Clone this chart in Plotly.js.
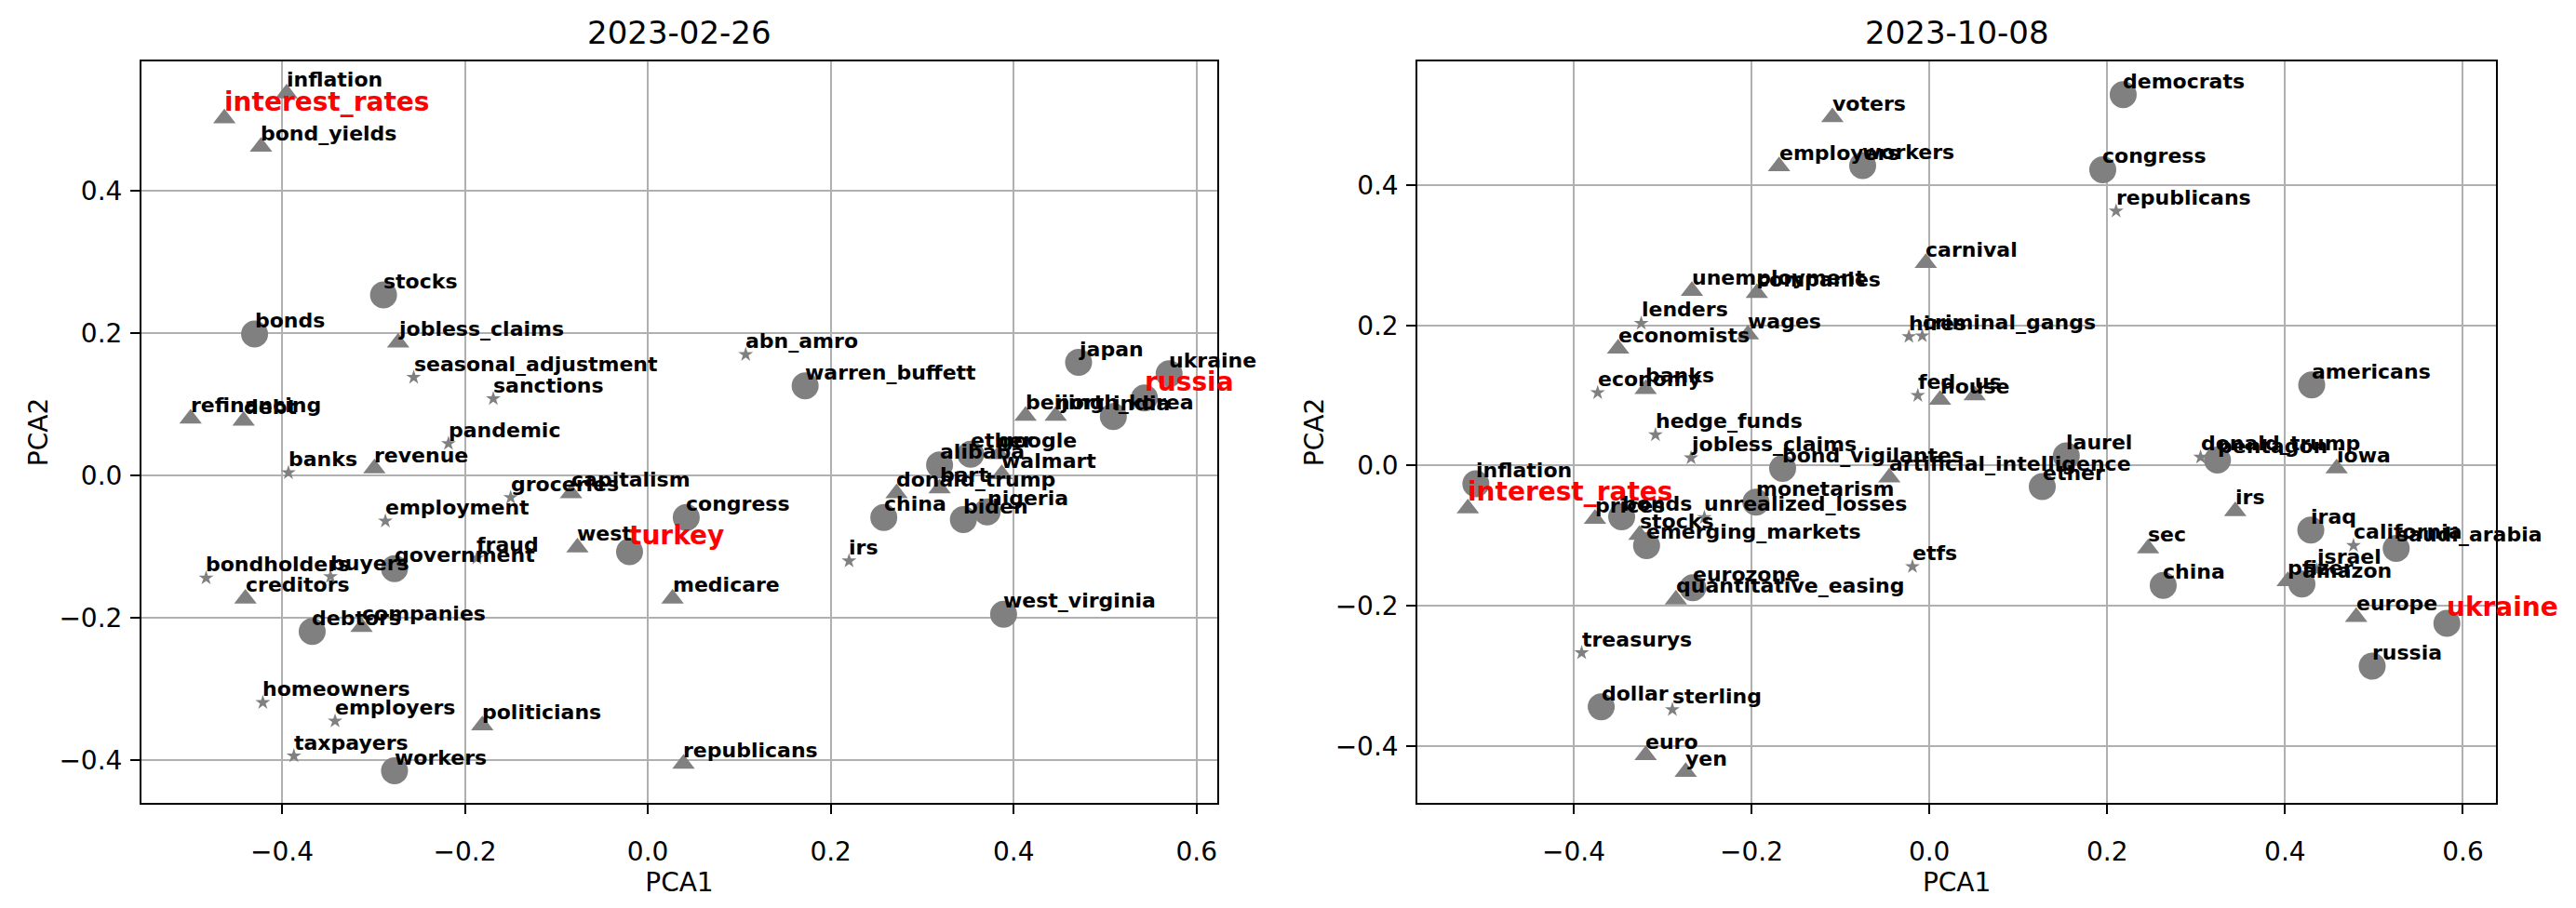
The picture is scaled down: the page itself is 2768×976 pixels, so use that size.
<!DOCTYPE html>
<html><head><meta charset="utf-8">
<script src="https://cdn.plot.ly/plotly-3.0.1.min.js"></script>
<style>body{margin:0;background:#fff}</style>
</head><body><div id="chart" style="width:2768px;height:976px"></div>
<script>
// ---------- Panel 1: 2023-02-26 ----------
const leftTitle = '2023-02-26';
const leftWords = ['inflation','interest_rates','bond_yields','stocks','bonds','jobless_claims','seasonal_adjustment','sanctions','refinancing','debt','pandemic','banks','revenue','employment','groceries','capitalism','congress','fraud','government','bondholders','buyers','creditors','west','turkey','medicare','irs','debtors','companies','homeowners','employers','politicians','taxpayers','workers','republicans','abn_amro','warren_buffett','japan','ukraine','russia','beijing','north_korea','india','ether','google','alibaba','walmart','bart','donald_trump','china','nigeria','biden','west_virginia'];
const leftX = [-0.395,-0.463,-0.423,-0.289,-0.430,-0.273,-0.256,-0.169,-0.500,-0.442,-0.218,-0.393,-0.299,-0.287,-0.150,-0.084,0.042,-0.187,-0.277,-0.483,-0.347,-0.440,-0.077,-0.020,0.027,0.220,-0.367,-0.313,-0.421,-0.342,-0.181,-0.387,-0.277,0.039,0.107,0.172,0.471,0.570,0.543,0.413,0.446,0.509,0.353,0.384,0.319,0.387,0.319,0.272,0.258,0.371,0.345,0.389];
const leftY = [0.537,0.502,0.462,0.254,0.199,0.187,0.138,0.108,0.080,0.077,0.045,0.004,0.010,-0.064,-0.031,-0.025,-0.059,-0.116,-0.131,-0.144,-0.142,-0.173,-0.101,-0.107,-0.173,-0.120,-0.219,-0.213,-0.319,-0.345,-0.351,-0.394,-0.415,-0.405,0.170,0.126,0.159,0.143,0.109,0.084,0.084,0.083,0.030,0.030,0.015,0.002,-0.018,-0.025,-0.059,-0.051,-0.062,-0.195];
const leftShape = ['^','^','^','o','o','^','*','*','^','^','*','*','^','*','*','^','o','*','o','*','*','^','^','o','^','*','o','^','*','*','^','*','o','^','*','o','o','o','o','^','^','o','o','^','o','^','^','^','o','o','o','o'];
const leftHighlight = ['interest_rates','turkey','russia'];

// ---------- Panel 2: 2023-10-08 ----------
const rightTitle = '2023-10-08';
const rightWords = ['voters','employers','workers','democrats','congress','republicans','carnival','unemployment','companies','lenders','economists','wages','hires','criminal_gangs','economy','banks','fed','house','us','americans','hedge_funds','jobless_claims','bond_vigilantes','artificial_intelligence','laurel','ether','donald_trump','pentagon','iowa','inflation','interest_rates','prices','bonds','stocks','emerging_markets','unrealized_losses','monetarism','eurozone','quantitative_easing','etfs','irs','sec','china','iraq','california','saudi_arabia','israel','pfizer','amazon','europe','ukraine','russia','treasurys','dollar','sterling','euro','yen'];
const rightX = [-0.109,-0.169,-0.075,0.218,0.195,0.210,-0.004,-0.267,-0.194,-0.324,-0.350,-0.204,-0.023,-0.008,-0.373,-0.319,-0.013,0.012,0.051,0.430,-0.308,-0.268,-0.165,-0.045,0.154,0.127,0.305,0.324,0.458,-0.510,-0.519,-0.376,-0.346,-0.326,-0.318,-0.253,-0.195,-0.266,-0.285,-0.019,0.344,0.246,0.263,0.429,0.477,0.525,0.436,0.403,0.419,0.480,0.582,0.498,-0.391,-0.369,-0.289,-0.319,-0.274];
const rightY = [0.497,0.427,0.428,0.529,0.422,0.363,0.289,0.249,0.246,0.203,0.167,0.187,0.184,0.185,0.104,0.109,0.100,0.094,0.100,0.115,0.044,0.011,-0.004,-0.017,0.014,-0.030,0.012,0.008,-0.004,-0.026,-0.061,-0.076,-0.073,-0.099,-0.114,-0.074,-0.052,-0.174,-0.191,-0.144,-0.065,-0.118,-0.171,-0.092,-0.114,-0.118,-0.149,-0.165,-0.169,-0.216,-0.225,-0.286,-0.267,-0.344,-0.348,-0.413,-0.437];
const rightShape = ['^','^','o','o','o','*','^','^','^','*','^','^','*','*','*','^','*','^','^','o','*','*','o','^','o','o','*','o','^','o','^','^','o','^','o','*','o','o','^','*','^','^','o','o','*','o','*','^','o','^','o','o','*','o','*','^','^'];
const rightHighlight = ['interest_rates','ukraine'];

const xTicks = [-0.4,-0.2,0.0,0.2,0.4,0.6];
const yTicks = [-0.4,-0.2,0.0,0.2,0.4];

const FONT = 'DejaVu Sans';
const GRAY = '#808080';
const shapeStyle = {
  'o': {symbol:'circle', size:29},
  '^': {symbol:'triangle-up', size:21},
  '*': {symbol:'star', size:12}
};

const traces = [];
const annotations = [];

function addPanel(words, xs, ys, shapes, highlight, xref, yref, title) {
  ['o','^','*'].forEach(function(s){
    const px = [], py = [], pt = [];
    for (let i = 0; i < words.length; i++) {
      if (shapes[i] === s) { px.push(xs[i]); py.push(ys[i]); pt.push(words[i]); }
    }
    traces.push({
      type:'scatter', mode:'markers', x:px, y:py, text:pt,
      xaxis:xref, yaxis:yref, hoverinfo:'text', showlegend:false,
      marker:{symbol:shapeStyle[s].symbol, size:shapeStyle[s].size, color:GRAY, line:{width:0}}
    });
  });
  for (let i = 0; i < words.length; i++) {
    const hi = highlight.indexOf(words[i]) >= 0;
    annotations.push({
      x:xs[i], y:ys[i], xref:xref, yref:yref, text:words[i], showarrow:false,
      xanchor:'left', yanchor:'bottom', borderpad:0, borderwidth:0,
      xshift:0, yshift: hi ? 1 : 2,
      font:{family:FONT, size: hi ? 28 : 22, color: hi ? '#ff0000' : '#000000', weight:'bold'}
    });
  }
  annotations.push({
    text:title, showarrow:false, x:0.5, y:1,
    xref:(xref==='x'?'x domain':'x2 domain'), yref:(yref==='y'?'y domain':'y2 domain'),
    xanchor:'center', yanchor:'bottom', yshift:9,
    font:{family:FONT, size:34, color:'#000'}
  });
}

addPanel(leftWords, leftX, leftY, leftShape, leftHighlight, 'x', 'y', leftTitle);
addPanel(rightWords, rightX, rightY, rightShape, rightHighlight, 'x2', 'y2', rightTitle);

function axis(extra) {
  return Object.assign({
    showline:true, mirror:true, linecolor:'#000', linewidth:2,
    ticks:'outside', ticklen:10, tickwidth:2, tickcolor:'#000',
    showgrid:true, gridcolor:'#b0b0b0', gridwidth:2, zeroline:false,
    tickfont:{family:FONT, size:28, color:'#000'},
    tickformat:'.1f'
  }, extra);
}

const layout = {
  width:2768, height:976,
  paper_bgcolor:'#fff', plot_bgcolor:'#fff',
  margin:{l:152, r:86, t:66, b:113},
  font:{family:FONT, color:'#000'},
  xaxis: axis({domain:[0,0.4569], range:[-0.5537,0.6226], tickvals:xTicks, anchor:'y', ticklabelstandoff:16,
    title:{text:'PCA1', font:{family:FONT,size:28}, standoff:3}}),
  yaxis: axis({domain:[0,1], range:[-0.46,0.582], tickvals:yTicks, anchor:'x', ticklabelstandoff:3,
    title:{text:'PCA2', font:{family:FONT,size:28}, standoff:4}}),
  xaxis2: axis({domain:[0.5420,1], range:[-0.5755,0.6372], tickvals:xTicks, anchor:'y2', ticklabelstandoff:16,
    title:{text:'PCA1', font:{family:FONT,size:28}, standoff:3}}),
  yaxis2: axis({domain:[0,1], range:[-0.481,0.5765], tickvals:yTicks, anchor:'x2', ticklabelstandoff:3,
    title:{text:'PCA2', font:{family:FONT,size:28}, standoff:4}}),
  annotations: annotations
};

Plotly.newPlot('chart', traces, layout, {displayModeBar:false, staticPlot:true});
</script>
</body></html>
